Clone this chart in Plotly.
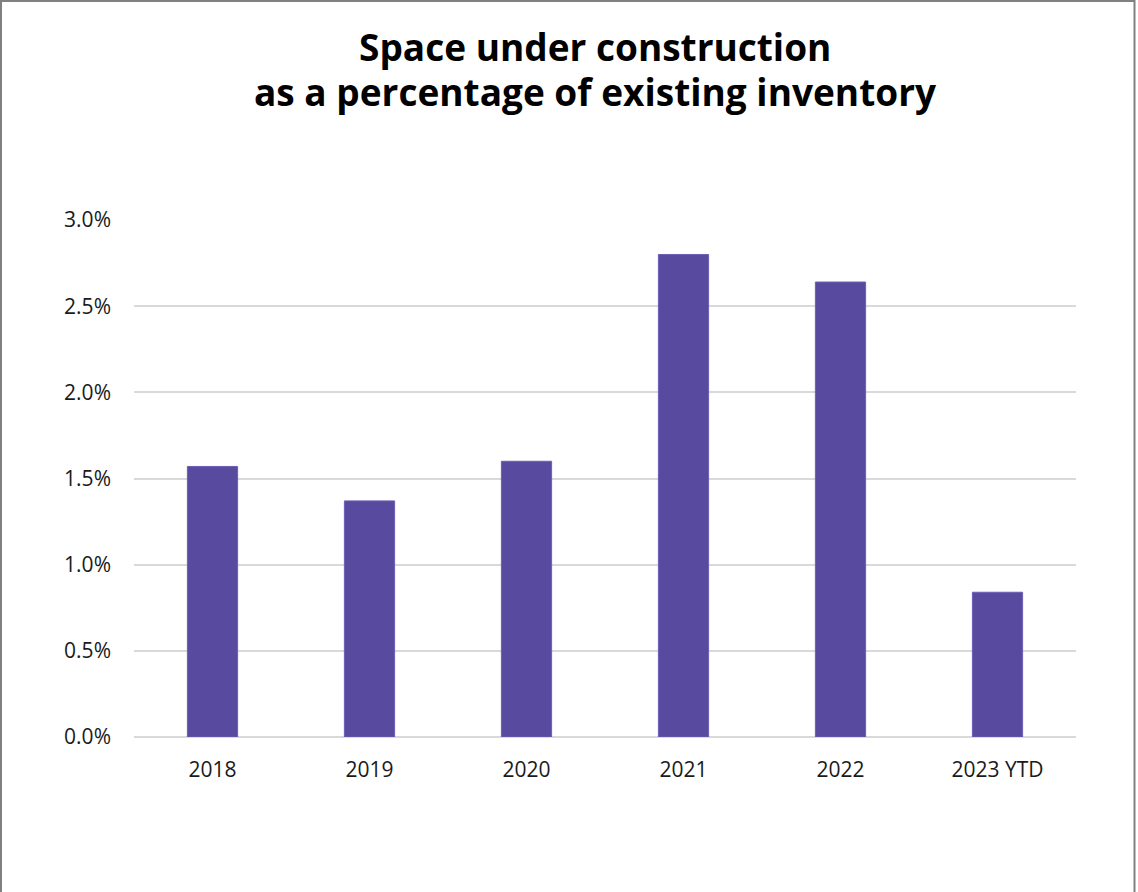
import plotly.graph_objects as go

categories = ["2018", "2019", "2020", "2021", "2022", "2023 YTD"]
values = [1.57, 1.37, 1.60, 2.80, 2.64, 0.84]
y_ticks = [0.0, 0.5, 1.0, 1.5, 2.0, 2.5, 3.0]
y_tick_labels = ["0.0%", "0.5%", "1.0%", "1.5%", "2.0%", "2.5%", "3.0%"]
title_lines = ["Space under construction", "as a percentage of existing inventory"]

W, H = 1138, 892
ml, mr, mt, mb = 134, 62, 220, 155
pw, ph = W - ml - mr, H - mt - mb

fig = go.Figure(go.Bar(
    x=categories, y=values,
    marker=dict(color="#574A9F", line=dict(color="#6A5FB3", width=1)),
    width=0.32,
))

def px_x(p):
    return (p - ml) / pw

def px_y(p):
    return (H - mb - p) / ph

fig.add_shape(type="rect", xref="paper", yref="paper",
              x0=px_x(1), x1=px_x(1134.5), y0=px_y(905), y1=px_y(1),
              line=dict(color="#808080", width=2), fillcolor="rgba(0,0,0,0)",
              layer="above")

for line, ymid in zip(title_lines, [47, 91]):
    fig.add_annotation(text=f"<b>{line}</b>", xref="paper", yref="paper",
                       x=px_x(595), y=px_y(ymid), xanchor="center", yanchor="middle",
                       showarrow=False,
                       font=dict(family="Open Sans", size=37, color="#000000"))

fig.update_layout(
    width=W, height=H,
    margin=dict(l=ml, r=mr, t=mt, b=mb, pad=0),
    paper_bgcolor="white", plot_bgcolor="white",
    font=dict(family="Open Sans", color="#1a1a1a", size=21),
    showlegend=False,
)
fig.update_xaxes(showgrid=False, showline=False, ticks="", tickfont=dict(size=21),
                 ticklabelstandoff=18)
fig.update_yaxes(range=[0, 3.0], tickvals=y_ticks, ticktext=y_tick_labels,
                 showgrid=True, gridcolor="#D9D9D9", gridwidth=1.5,
                 zeroline=True, zerolinecolor="#D9D9D9", zerolinewidth=1.5,
                 showline=False, ticks="", tickfont=dict(size=21),
                 ticklabelstandoff=22)

fig.write_html("out.html")
